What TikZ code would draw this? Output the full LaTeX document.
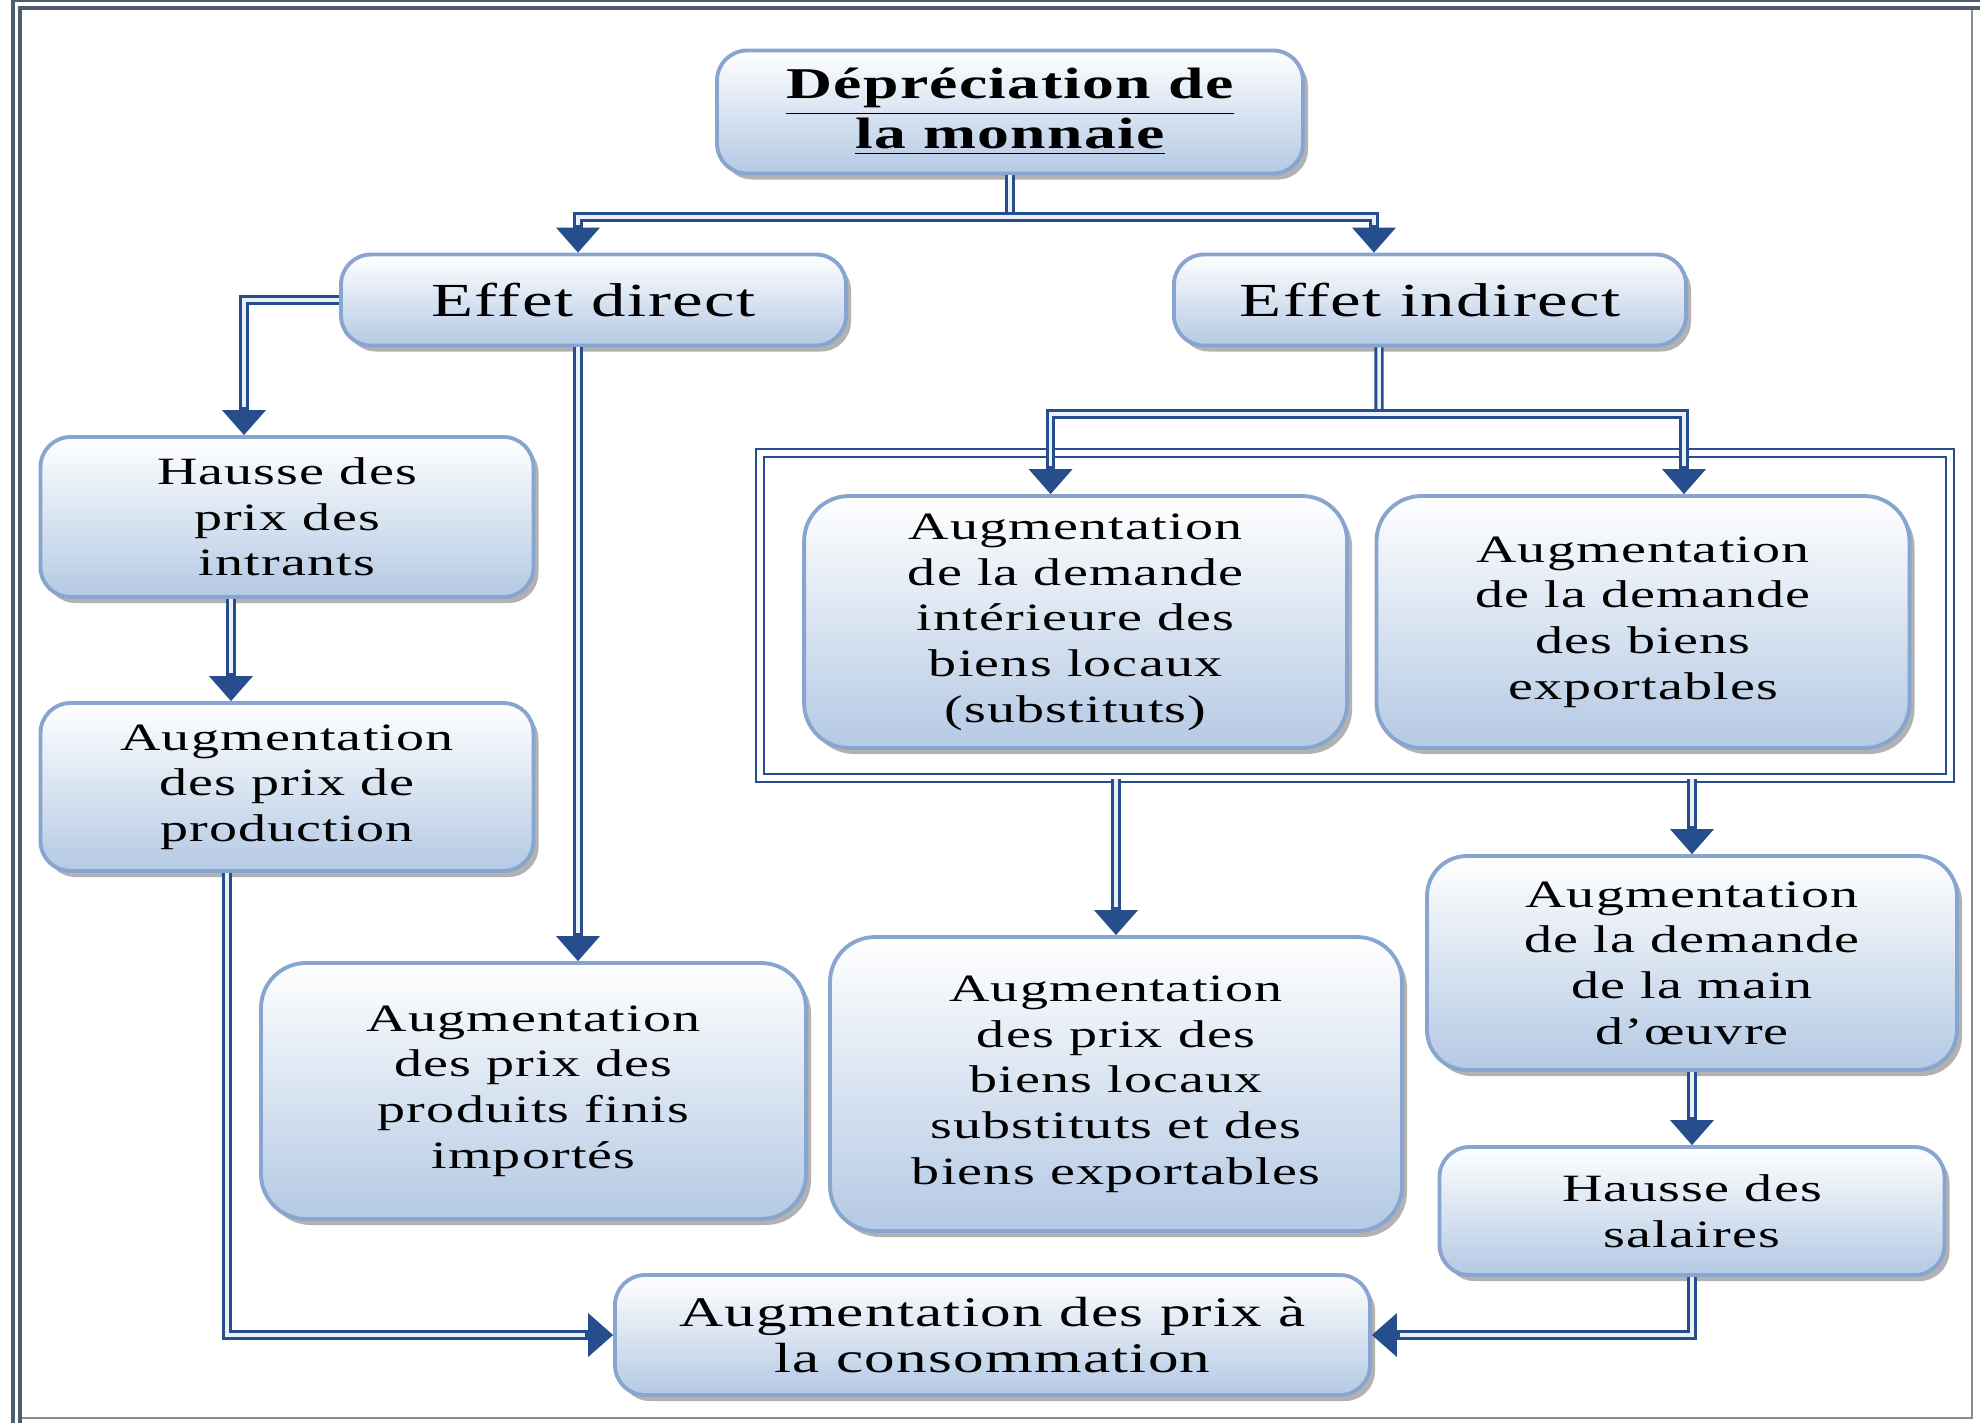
\documentclass[tikz,border=0pt]{standalone}
\usepackage{fontspec}
\setmainfont{Liberation Serif}[FakeStretch=1.45,LetterSpace=3]
\usetikzlibrary{arrows.meta,shadows}

\definecolor{boxblue}{RGB}{180,201,228}
\definecolor{boxedge}{RGB}{135,165,206}
\definecolor{flowblue}{RGB}{38,78,140}
\definecolor{pipein}{RGB}{235,241,250}
\definecolor{frameline}{RGB}{78,92,112}

\newcommand\titlefont{\fontsize{12.5}{14}\selectfont\bfseries}
\newcommand\effetfont{\fontsize{13.5}{15}\selectfont}

\tikzset{
  box/.style={draw=boxedge, line width=1.1pt, rounded corners=#1,
    top color=white, bottom color=boxblue, align=center,
    drop shadow={shadow xshift=0.05cm, shadow yshift=-0.06cm, fill=black!50, opacity=0.6},
    font=\fontsize{11}{13}\selectfont},
  box/.default=0.3cm,
  flow/.style={draw=flowblue, line width=2.6pt,
    -{Triangle[length=0.25cm, width=0.44cm, line width=0pt]},
    postaction={draw=pipein, line width=1pt, arrows=-, shorten >=0.28cm}},
  flowboth/.style={draw=flowblue, line width=2.6pt,
    {Triangle[length=0.25cm, width=0.44cm, line width=0pt]}-{Triangle[length=0.25cm, width=0.44cm, line width=0pt]},
    postaction={draw=pipein, line width=1pt, arrows=-, shorten >=0.28cm, shorten <=0.28cm}},
  pipe/.style={draw=flowblue, line width=2.6pt,
    postaction={draw=pipein, line width=1pt}},
  group/.style={draw=flowblue, double=white, line width=0.8pt, double distance=1.5pt},
}

\begin{document}
\begin{tikzpicture}
	\useasboundingbox (0,0) rectangle (19.8,-14.22);
	\fill[white] (0,0) rectangle (19.8,-14.22);
	% page frame
	\draw[black!45, line width=0.6pt] (0.17,-14.18) -| (19.72,-0.05);
	\draw[frameline, double=white, line width=1.2pt, double distance=0.9pt] (0.165,-14.4) |- (20,-0.04);

	\node[group, minimum width=11.9cm, minimum height=3.25cm] (grp) at (13.55,-6.155) {};

	\node[box, minimum width=5.86cm, minimum height=1.23cm, font=\titlefont] (dep) at (10.10,-1.12)
		{\underline{Dépréciation de}\\\underline{la monnaie}};
	\node[box, minimum width=5.05cm, minimum height=0.91cm, font=\effetfont] (ed) at (5.935,-3.00) {Effet direct};
	\node[box, minimum width=5.12cm, minimum height=0.91cm, font=\effetfont] (ei) at (14.30,-3.00) {Effet indirect};
	\node[box, minimum width=4.93cm, minimum height=1.60cm] (haus) at (2.87,-5.17) {Hausse des\\prix des\\intrants};
	\node[box, minimum width=4.93cm, minimum height=1.68cm] (prod) at (2.87,-7.87) {Augmentation\\des prix de\\production};
	\node[box=0.45cm, minimum width=5.45cm, minimum height=2.56cm] (imp) at (5.335,-10.91) {Augmentation\\des prix des\\produits finis\\importés};
	\node[box=0.45cm, minimum width=5.43cm, minimum height=2.52cm] (sub) at (10.756,-6.22) {Augmentation\\de la demande\\intérieure des\\biens locaux\\(substituts)};
	\node[box=0.45cm, minimum width=5.33cm, minimum height=2.52cm] (exp) at (16.43,-6.22) {Augmentation\\de la demande\\des biens\\exportables};
	\node[box=0.45cm, minimum width=5.72cm, minimum height=2.94cm] (pxs) at (11.16,-10.84) {Augmentation\\des prix des\\biens locaux\\substituts et des\\biens exportables};
	\node[box=0.4cm, minimum width=5.30cm, minimum height=2.14cm] (mo) at (16.92,-9.63) {Augmentation\\de la demande\\de la main\\d’œuvre};
	\node[box, minimum width=5.05cm, minimum height=1.28cm] (sal) at (16.92,-12.11) {Hausse des\\salaires};
	\node[box, minimum width=7.55cm, minimum height=1.20cm, font={\fontsize{12}{13}\selectfont}] (cons) at (9.925,-13.35) {Augmentation des prix à\\la consommation};

	\coordinate (bar1) at (10.10,-2.17);
	\coordinate (bar2) at (13.79,-4.14);

	% liaisons
	\draw[pipe] (dep.south) -- (bar1);
	\draw[flowboth] ([xshift=-0.155cm]ed.north) |- (bar1) -| ([xshift=-0.56cm]ei.north);
	\draw[flow] (ed.west) -| ([xshift=-0.43cm]haus.north);
	\draw[flow] ([xshift=-0.155cm]ed.south) -- ([xshift=-0.155cm]ed.south |- imp.north);
	\draw[flow] ([xshift=-0.56cm]haus.south) -- ([xshift=-0.56cm]prod.north);
	\draw[flow] ([xshift=-0.60cm]prod.south) |- (cons.west);
	\draw[pipe] ([xshift=-0.51cm]ei.south) -- (bar2);
	\draw[flowboth] ([xshift=-0.25cm]sub.north) |- (bar2) -| ([xshift=0.41cm]exp.north);
	\draw[flow] (pxs.north |- grp.south) -- (pxs.north);
	\draw[flow] (mo.north |- grp.south) -- (mo.north);
	\draw[flow] (mo.south) -- (sal.north);
	\draw[flow] (sal.south) |- (cons.east);
\end{tikzpicture}
\end{document}
